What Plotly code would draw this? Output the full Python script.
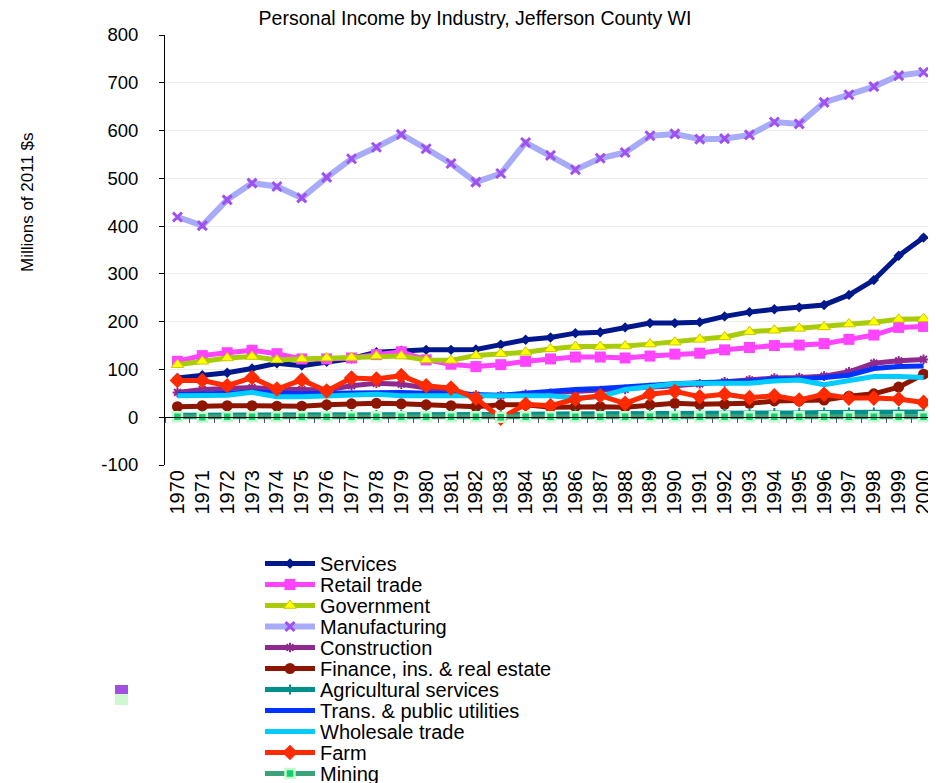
import plotly.graph_objects as go

years = [str(y) for y in range(1970, 2001)]

services = [82, 88, 93, 102, 113, 108, 116, 123, 136, 139, 141, 141, 142, 152, 162, 167, 176, 178, 188, 197, 197, 199, 211, 220, 226, 230, 235, 256, 287, 338, 376]
retail = [117, 129, 135, 140, 133, 122, 122, 124, 131, 137, 120, 111, 106, 110, 117, 122, 126, 126, 124, 128, 132, 134, 141, 146, 150, 151, 154, 163, 172, 188, 190]
government = [110, 117, 124, 127, 120, 122, 124, 125, 128, 128, 120, 119, 129, 133, 136, 143, 148, 148, 149, 153, 157, 163, 168, 179, 182, 186, 189, 195, 199, 205, 206]
manufacturing = [419, 401, 455, 490, 483, 459, 502, 541, 565, 592, 562, 531, 492, 510, 575, 548, 518, 542, 554, 589, 593, 582, 583, 591, 618, 614, 659, 675, 692, 715, 722]
construction = [52, 58, 60, 62, 59, 58, 57, 66, 71, 69, 61, 55, 46, 45, 48, 50, 53, 56, 58, 62, 66, 70, 74, 78, 82, 83, 86, 95, 113, 118, 121]
finance = [22, 24, 24, 24, 23, 23, 26, 28, 29, 28, 26, 24, 22, 26, 26, 21, 22, 22, 21, 26, 29, 27, 27, 29, 34, 34, 36, 44, 49, 63, 90]
ag_services = [4, 4, 4, 4, 5, 5, 5, 5, 5, 6, 6, 6, 6, 6, 6, 7, 7, 7, 7, 8, 8, 8, 8, 9, 9, 9, 10, 10, 10, 11, 11]
trans = [47, 48, 50, 53, 50, 49, 50, 51, 52, 52, 50, 48, 46, 46, 50, 55, 58, 60, 64, 66, 70, 72, 73, 76, 80, 80, 83, 88, 102, 106, 107]
wholesale = [45, 45, 46, 52, 43, 43, 45, 47, 48, 45, 45, 44, 44, 43, 45, 45, 40, 43, 58, 64, 70, 71, 71, 71, 76, 78, 68, 76, 85, 85, 83]
farm = [77, 77, 66, 83, 59, 78, 55, 82, 80, 87, 66, 61, 40, -2, 27, 24, 38, 45, 29, 48, 54, 43, 48, 41, 45, 36, 48, 40, 40, 38, 31]
mining = [1, 0, 1, 1, 1, 1, 1, 1, 1, 1, 1, 1, 1, 0, 1, 1, 1, 1, 1, 1, 1, 1, 1, 1, 1, 1, 1, 1, 1, 1, 1]

y_tick_values = [-100, 0, 100, 200, 300, 400, 500, 600, 700, 800]
y_tick_labels = ["-100", "0", "100", "200", "300", "400", "500", "600", "700", "800"]

series = [
    ("Services", services, dict(color="#00188C", width=5), dict(symbol="diamond", size=8, color="#00188C")),
    ("Retail trade", retail, dict(color="#FF44FF", width=5), dict(symbol="square", size=11, color="#FF44FF")),
    ("Government", government, dict(color="#A8CC0A", width=5), dict(symbol="triangle-up", size=11, color="#FFFF00", line=dict(color="#C8C800", width=1))),
    ("Manufacturing", manufacturing, dict(color="#A8ACF8", width=6), dict(symbol="x-thin", size=9, color="#A050F0", line=dict(color="#A050F0", width=3))),
    ("Construction", construction, dict(color="#8E2A8E", width=5), dict(symbol="asterisk", size=8, color="#8E2A8E", line=dict(color="#8E2A8E", width=2))),
    ("Finance, ins. & real estate", finance, dict(color="#8E1600", width=5), dict(symbol="circle", size=11, color="#8E1600")),
    ("Agricultural services", ag_services, dict(color="#00908C", width=5), dict(symbol="cross-thin", size=7, color="#00908C", line=dict(color="#00908C", width=2))),
    ("Trans. & public utilities", trans, dict(color="#0033FF", width=5), None),
    ("Wholesale trade", wholesale, dict(color="#00CCFF", width=5), None),
    ("Farm", farm, dict(color="#FF2A00", width=5), dict(symbol="diamond", size=12, color="#FF2A00")),
    ("Mining", mining, dict(color="#3CA27A", width=5), dict(symbol="square", size=9, color="#10D070", line=dict(color="#C8F8D0", width=2.5))),
]

PLOT_TOP, PLOT_BOTTOM, PLOT_LEFT, PLOT_RIGHT = 27, 457, 157, 928
PH = PLOT_BOTTOM - PLOT_TOP
PW = PLOT_RIGHT - PLOT_LEFT
font_family = "Liberation Sans, Arial, sans-serif"

fig = go.Figure()
legend_layouts = {}
for i, (name, vals, line, marker) in enumerate(series):
    lg = "legend" if i == 0 else f"legend{i + 1}"
    kw = dict(x=years, y=vals, name=name, line=line, legend=lg)
    if marker is None:
        fig.add_trace(go.Scatter(mode="lines", **kw))
    else:
        fig.add_trace(go.Scatter(mode="lines+markers", marker=marker, **kw))
    center_px = 563 + 21 * i
    legend_layouts[lg] = dict(
        x=(252 - PLOT_LEFT) / PW, y=(PLOT_BOTTOM - (center_px - 27)) / PH,
        xanchor="left", yanchor="top", font=dict(size=20, family=font_family, color="black"),
        bgcolor="rgba(0,0,0,0)", itemwidth=50,
    )

# helper trace for the axis line drawn at y = 0
fig.add_trace(go.Scatter(x=years, y=[0] * len(years), xaxis="x2", mode="lines",
                         line=dict(width=0, color="rgba(0,0,0,0)"), showlegend=False, hoverinfo="skip"))

fig.update_layout(
    width=936, height=783,
    margin=dict(l=PLOT_LEFT, r=936 - PLOT_RIGHT, t=PLOT_TOP, b=783 - PLOT_BOTTOM, autoexpand=False),
    paper_bgcolor="white", plot_bgcolor="white",
    font=dict(family=font_family, color="black"),
    title=dict(text="Personal Income by Industry, Jefferson County WI", font=dict(size=19.5, color="black"),
               x=(467 - PLOT_LEFT) / PW, xref="paper", xanchor="center", y=1 - 10 / 783, yanchor="middle"),
    xaxis=dict(type="category", range=[-0.5, 30.5], showgrid=False, showline=False, ticks="",
               tickangle=-90, tickfont=dict(size=20), zeroline=False),
    xaxis2=dict(type="category", range=[-0.5, 30.5], overlaying="x", anchor="free", position=100 / 900,
                showline=True, linecolor="black", linewidth=1, ticks="outside", tickson="boundaries",
                ticklen=5, tickcolor="#555555", showticklabels=False, showgrid=False, zeroline=False),
    yaxis=dict(range=[-100, 800], tickvals=y_tick_values, ticktext=y_tick_labels, showline=True,
               linecolor="black", linewidth=1, ticks="outside", ticklen=5, tickcolor="black",
               tickfont=dict(size=18.5), ticklabelstandoff=17, gridcolor="#EDEDED", zeroline=False),
    showlegend=True,
    **legend_layouts,
)

fig.add_annotation(text="Millions of 2011 $s", xref="paper", yref="paper", x=(19 - PLOT_LEFT) / PW,
                   y=(PLOT_BOTTOM - 194) / PH, textangle=-90, showarrow=False,
                   font=dict(size=17, color="black"), xanchor="center", yanchor="middle")

# small stray legend-key artifact seen at the left of the legend
fig.add_shape(type="rect", xref="paper", yref="paper", x0=(107 - PLOT_LEFT) / PW, x1=(120 - PLOT_LEFT) / PW,
              y0=(PLOT_BOTTOM - 686) / PH, y1=(PLOT_BOTTOM - 697) / PH, fillcolor="#D0F8D0", line=dict(width=0))
fig.add_shape(type="rect", xref="paper", yref="paper", x0=(107 - PLOT_LEFT) / PW, x1=(120 - PLOT_LEFT) / PW,
              y0=(PLOT_BOTTOM - 677) / PH, y1=(PLOT_BOTTOM - 686) / PH, fillcolor="#A050E0", line=dict(width=0))

fig.write_html("out.html")
